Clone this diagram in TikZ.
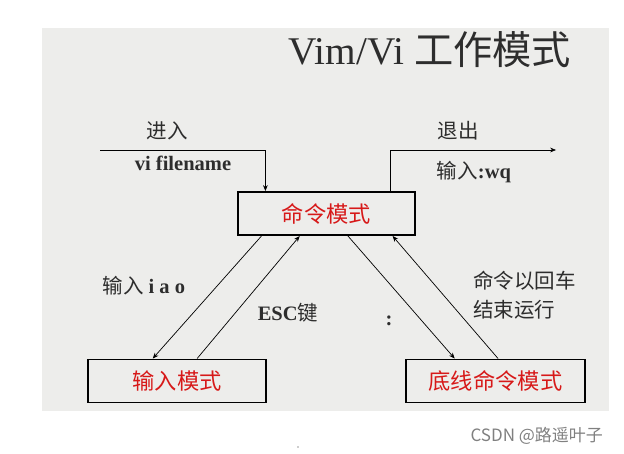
\documentclass[tikz,border=0pt]{standalone}
\usepackage{fontspec}
\setmainfont{Liberation Serif}
\newfontfamily\cjk{Noto Sans CJK SC}
\usepackage{xcolor}
\usetikzlibrary{arrows.meta,positioning,calc}
\definecolor{vimred}{RGB}{215,25,25}
\definecolor{panelgray}{RGB}{237,237,235}
\definecolor{txtgray}{RGB}{45,45,45}
\newcommand{\latb}[1]{{\rmfamily\bfseries #1}}

\begin{document}
\begin{tikzpicture}[
  x=0.03cm, y=-0.03cm,
  mode/.style={draw, rectangle, line width=1.4pt, minimum height=1.3cm, inner sep=0pt,
               text=vimred, font=\cjk\fontsize{19}{22}\selectfont},
  lbl/.style={text=txtgray, font=\cjk\fontsize{17.5}{25}\selectfont, inner sep=0pt},
  >={Stealth[length=5pt,width=4pt]},
  arrline/.style={->, line width=0.6pt},
]
\useasboundingbox (0,0) rectangle (624,454);

% ============ Background panel ============
\fill[panelgray] (42,28) rectangle (609,411);

% ============ Title ============
\node[text=txtgray, font=\fontsize{33.5}{38}\selectfont] (title) at (430,50) {Vim/Vi {\cjk 工作模式}};

% ============ Mode boxes ============
\node[mode, minimum width=5.31cm] (cmd) at (326.5,213.5) {命令模式};
\node[mode, minimum width=5.34cm] (insert) at (177,381) {输入模式};
\node[mode, minimum width=5.37cm] (lastline) at (495.5,381) {底线命令模式};

% ============ Enter / exit ============
\coordinate (enterStart) at (100,150);
\coordinate (exitEnd) at (556,150);
\node[lbl] (enterLbl) at (167,131) {进入};
\node[lbl] (viLbl) at (183,163) {\latb{vi filename}};
\node[lbl] (exitLbl) at (458,131) {退出};
\node[lbl] (wqLbl) at (474,172) {输入\latb{:wq}};

\draw[arrline] (enterStart) -| ($(cmd.north west)!0.158!(cmd.north east)$);
\draw[arrline] ($(cmd.north west)!0.859!(cmd.north east)$) |- (exitEnd);

% ============ Command <-> insert ============
\draw[arrline] ($(cmd.south west)!0.136!(cmd.south east)$) -- ($(insert.north west)!0.365!(insert.north east)$);
\draw[arrline] ($(insert.north west)!0.612!(insert.north east)$) -- ($(cmd.south west)!0.35!(cmd.south east)$);
\node[lbl] (iaoLbl) at (144,286) {输入 \latb{i a o}};
\node[lbl] (escLbl) at (288,313) {\latb{ESC}键};

% ============ Command <-> last line ============
\draw[arrline] ($(cmd.south west)!0.62!(cmd.south east)$) -- ($(lastline.north west)!0.274!(lastline.north east)$);
\draw[arrline] ($(lastline.north west)!0.514!(lastline.north east)$) -- ($(cmd.south west)!0.87!(cmd.south east)$);
\node[lbl] (colonLbl) at (389,321) {\latb{:}};
\node[lbl, anchor=west, align=left] (enterRunLbl) at (473,295) {命令以回车\\结束运行};

% ============ Watermark ============
\node[text=gray, font=\cjk\fontsize{14.5}{16}\selectfont, anchor=east] (mark) at (607,436) {CSDN @路遥叶子};
\fill[txtgray] (298,447) circle (0.6);

\end{tikzpicture}
\end{document}
